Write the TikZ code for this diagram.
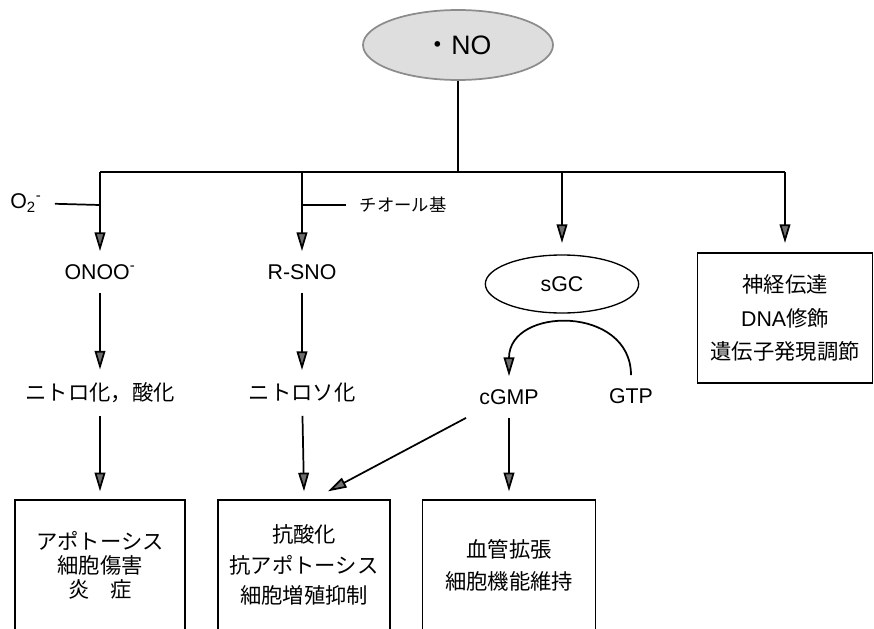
\documentclass[tikz,border=0pt]{standalone}
\usepackage{fontspec}
\setmainfont{Noto Sans CJK JP}
\newfontfamily\latinfont{Liberation Sans}
\usepackage{xcolor}
\usetikzlibrary{arrows.meta, shapes.geometric}
\definecolor{stipplegray}{RGB}{222,222,222}
\definecolor{tipgray}{RGB}{110,110,110}

\begin{document}
\begin{tikzpicture}[x=0.75pt, y=-0.75pt, line width=1.3pt,
    arr/.style={-{Triangle[length=14pt, width=8pt, fill=tipgray]}},
    lbl/.style={inner sep=0pt, outer sep=10pt, font=\fontsize{16}{18}\selectfont\latinfont},
    jlbl/.style={inner sep=0pt, outer sep=10pt, font=\fontsize{16}{20}\selectfont},
    resultbox/.style={draw, line width=1pt, minimum height=97.5pt, align=center, inner sep=0pt}]
    \useasboundingbox (0,0) rectangle (874,628);
    \clip (0,0) rectangle (874,628);
    \node[ellipse, draw=black!45, fill=stipplegray, minimum width=142.5pt, minimum height=52.5pt, inner sep=0pt, font=\fontsize{20}{24}\selectfont] (no) at (458,45) {・{\latinfont NO}};
    \coordinate (top) at (458,172);
    \coordinate (j1) at (100,172);
    \coordinate (j2) at (302,172);
    \coordinate (j3) at (562,172);
    \coordinate (j4) at (785,172);
    \coordinate (o2j) at (100,205);
    \coordinate (thj) at (302,205);
    \draw (no.south) -- (top);
    \draw (j1) -- (j4);
    \node[lbl] (o2) at (26,203) {O\textsubscript{2}\textsuperscript{-}};
    \node[jlbl, font=\fontsize{13}{16}\selectfont] (thiol) at (403,205) {チオール基};
    \draw (o2) -- (o2j);
    \draw (thj) -- (thiol);
    \node[lbl] (onoo) at (100,272) {ONOO\textsuperscript{-}};
    \node[lbl] (rsno) at (302,272) {R-SNO};
    \node[ellipse, draw, line width=1pt, minimum width=115pt, minimum height=43.5pt, inner sep=0pt, outer sep=9pt, font=\fontsize{16}{18}\selectfont\latinfont] (sgc) at (562,284) {sGC};
    \node[resultbox, minimum width=131pt, outer sep=7.5pt, font=\fontsize{16}{25}\selectfont] (nerve) at (785,318) {神経伝達\\{\latinfont DNA}修飾\\遺伝子発現調節};
    \draw[arr] (j1) -- (onoo);
    \draw[arr] (j2) -- (rsno);
    \draw[arr] (j3) -- (sgc);
    \draw[arr] (j4) -- (nerve);
    \node[jlbl] (nitro) at (100,393) {ニトロ化，酸化};
    \node[jlbl] (nitroso) at (302,393) {ニトロソ化};
    \node[lbl] (cgmp) at (509,397) {cGMP};
    \node[lbl] (gtp) at (631,396) {GTP};
    \draw[arr] (onoo) -- (nitro);
    \draw[arr] (rsno) -- (nitroso);
    \draw[arr] (gtp.north) .. controls +(0,-70) and +(0,-70) .. (cgmp.north);
    \node[resultbox, minimum width=127.5pt, font=\fontsize{16}{18}\selectfont] (apop) at (100,565) {アポトーシス\\細胞傷害\\炎　症};
    \node[resultbox, minimum width=129pt, font=\fontsize{16}{23}\selectfont] (anti) at (304,565) {抗酸化\\抗アポトーシス\\細胞増殖抑制};
    \node[resultbox, minimum width=130pt, font=\fontsize{16}{24}\selectfont] (vaso) at (509,565) {血管拡張\\細胞機能維持};
    \draw[arr] (nitro) -- ([yshift=6pt]apop.north);
    \draw[arr] (nitroso) -- ([yshift=6pt]anti.north);
    \draw[arr] (cgmp) -- ([yshift=6pt]vaso.north);
    \draw[arr] (cgmp.south west) -- ([xshift=18pt, yshift=6pt]anti.north);
\end{tikzpicture}
\end{document}
